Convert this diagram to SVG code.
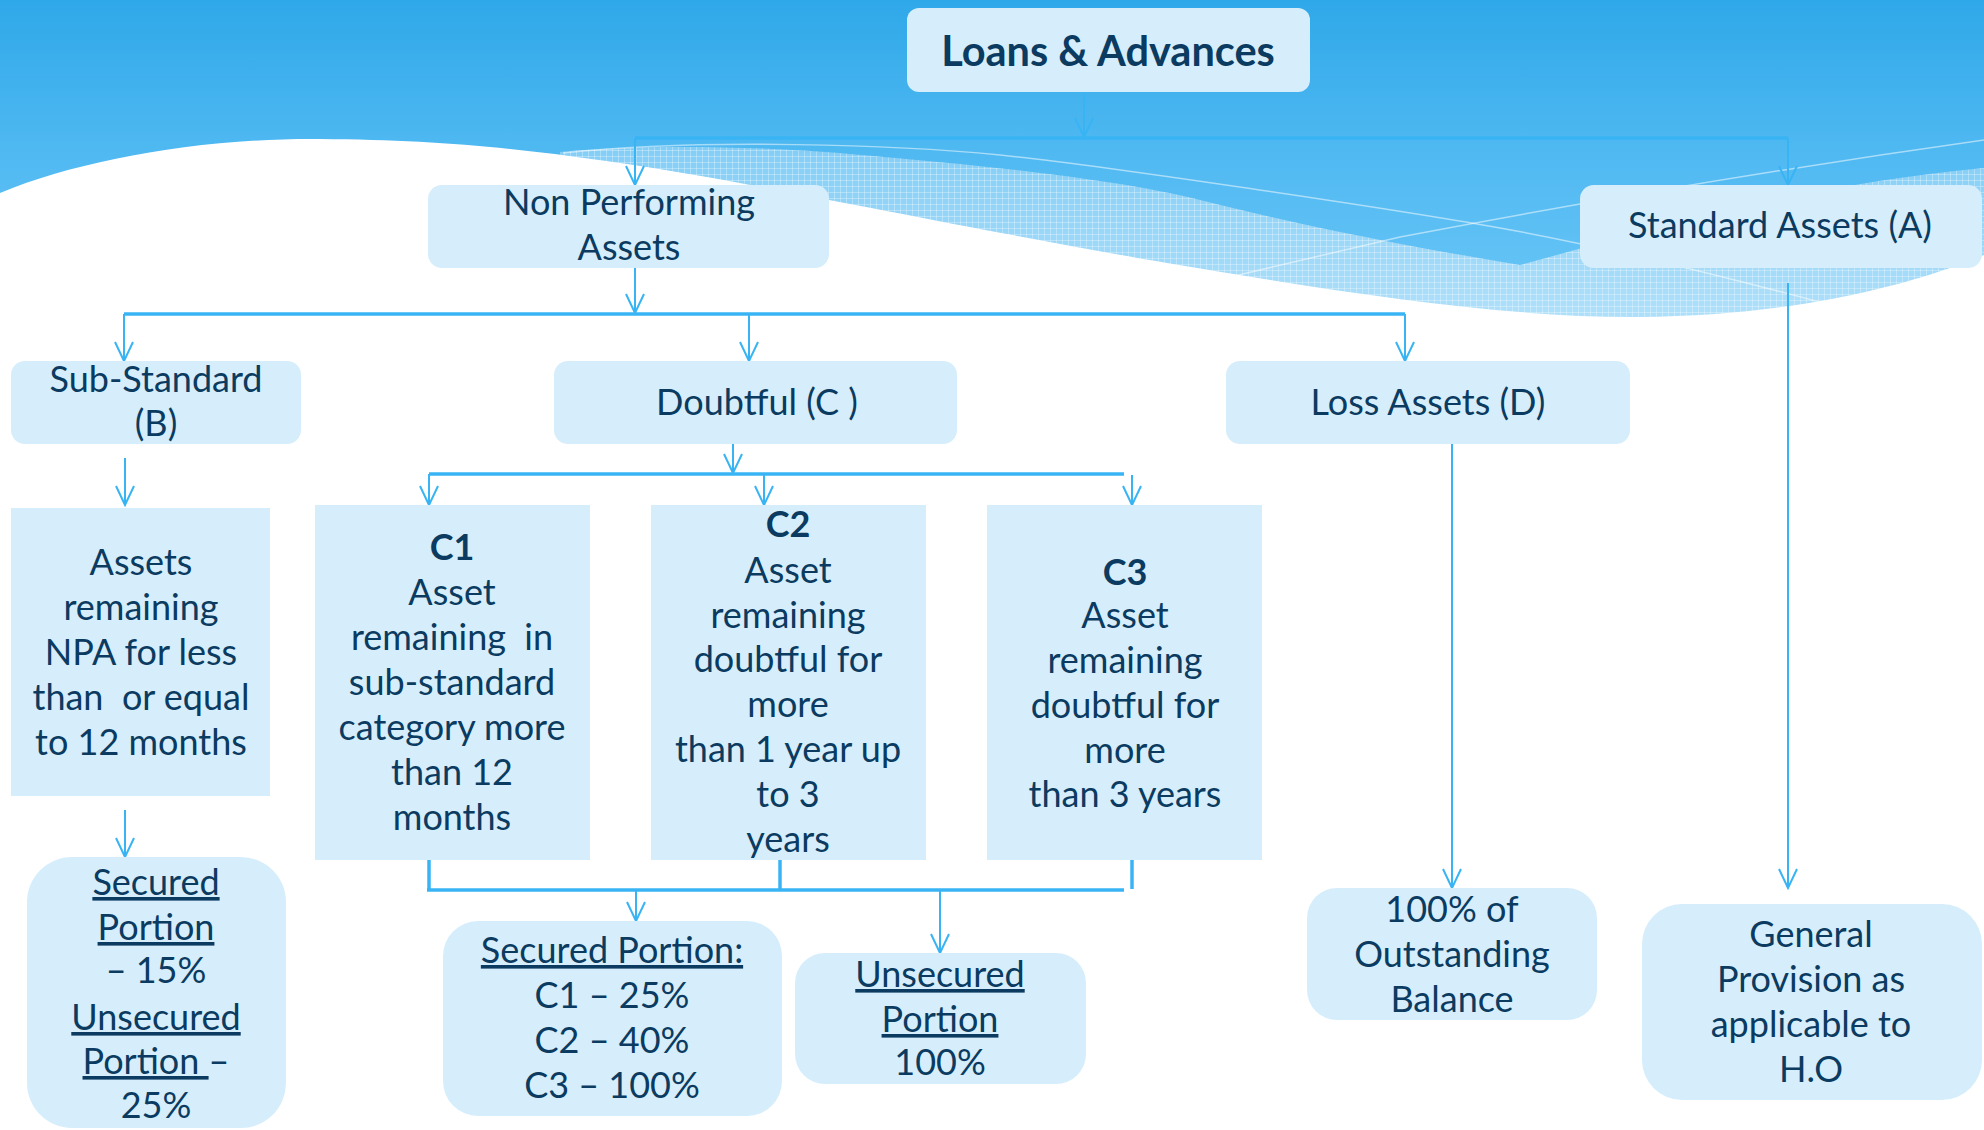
<svg xmlns="http://www.w3.org/2000/svg" width="1984" height="1130" viewBox="0 0 1984 1130">
<style>
.box{fill:#d6eefc}
.t{font-family:Lato,"Open Sans","Liberation Sans",sans-serif;font-size:36px;fill:#0b3b60;text-anchor:middle}
.b{font-weight:bold}
.title{font-size:41.5px}
.u{text-decoration:underline}
.c{stroke:#38b4f4;stroke-width:2;fill:none}
.bus{stroke-width:3.5}
.pre{white-space:pre}
</style>
<defs>
<linearGradient id="sky" x1="0" y1="0" x2="0" y2="330" gradientUnits="userSpaceOnUse">
<stop offset="0" stop-color="#2fa8e9"/>
<stop offset="0.5" stop-color="#52baf2"/>
<stop offset="1" stop-color="#6cc7f7"/>
</linearGradient>
<linearGradient id="band" x1="0" y1="150" x2="0" y2="320" gradientUnits="userSpaceOnUse">
<stop offset="0" stop-color="#84cef6"/>
<stop offset="1" stop-color="#b0e0fa"/>
</linearGradient>
<pattern id="grid" width="6" height="6" patternUnits="userSpaceOnUse">
<path d="M0,0.5H6M0.5,0V6" stroke="#ffffff" stroke-opacity="0.3" stroke-width="1"/>
</pattern>
<marker id="arr" markerUnits="userSpaceOnUse" viewBox="0 0 22 20" markerWidth="22" markerHeight="20" refX="20" refY="10" orient="auto">
<path d="M1,1 L20,10 L1,19" fill="none" stroke="#38b4f4" stroke-width="2"/>
</marker>
</defs>

<g id="background">
<rect x="0" y="0" width="1984" height="1130" fill="#ffffff"/>
<rect x="0" y="0" width="1984" height="340" fill="url(#sky)"/>
<path d="M560,152 C640,144 760,146 850,154 S1100,175 1200,200 S1400,245 1520,265 C1650,230 1800,185 1984,168 L1984,400 L560,400 Z" fill="url(#band)"/>
<path d="M560,152 C640,144 760,146 850,154 S1100,175 1200,200 S1400,245 1520,265 C1650,230 1800,185 1984,168 L1984,400 L560,400 Z" fill="url(#grid)"/>
<path d="M563,153 C700,138 900,145 1000,155 S1400,210 1500,228 S1700,270 1823,303" fill="none" stroke="#ffffff" stroke-opacity="0.5" stroke-width="1.5"/>
<path d="M1230,277 L1400,237 Q1700,180 1984,140" fill="none" stroke="#ffffff" stroke-opacity="0.5" stroke-width="1.5"/>
<path d="M0,193 C80,160 200,138 320,139 S520,148 640,166 S1000,235 1167,263 S1500,318 1640,317 S1900,290 1984,255 L1984,1130 L0,1130 Z" fill="#ffffff"/>
</g>

<g id="connectors">
<line class="c" x1="1084" y1="92" x2="1084" y2="137" marker-end="url(#arr)"/>
<line class="c bus" x1="635" y1="138" x2="1788" y2="138"/>
<line class="c" x1="635" y1="138" x2="635" y2="185" marker-end="url(#arr)"/>
<line class="c" x1="1788" y1="138" x2="1788" y2="185" marker-end="url(#arr)"/>

<line class="c" x1="635" y1="268" x2="635" y2="313" marker-end="url(#arr)"/>
<line class="c bus" x1="124" y1="314" x2="1405" y2="314"/>
<line class="c" x1="124" y1="314" x2="124" y2="361" marker-end="url(#arr)"/>
<line class="c" x1="749" y1="314" x2="749" y2="361" marker-end="url(#arr)"/>
<line class="c" x1="1405" y1="314" x2="1405" y2="361" marker-end="url(#arr)"/>

<line class="c" x1="125" y1="458" x2="125" y2="505" marker-end="url(#arr)"/>

<line class="c" x1="733" y1="444" x2="733" y2="473" marker-end="url(#arr)"/>
<line class="c bus" x1="429" y1="474" x2="1124" y2="474"/>
<line class="c" x1="429" y1="474" x2="429" y2="505" marker-end="url(#arr)"/>
<line class="c" x1="764" y1="474" x2="764" y2="505" marker-end="url(#arr)"/>
<line class="c" x1="1132" y1="475" x2="1132" y2="505" marker-end="url(#arr)"/>

<line class="c" x1="1452" y1="444" x2="1452" y2="888" marker-end="url(#arr)"/>
<line class="c" x1="1788" y1="283" x2="1788" y2="888" marker-end="url(#arr)"/>

<line class="c" x1="125" y1="810" x2="125" y2="857" marker-end="url(#arr)"/>

<line class="c bus" x1="429" y1="858" x2="429" y2="891"/>
<line class="c bus" x1="780" y1="858" x2="780" y2="891"/>
<line class="c bus" x1="1132" y1="858" x2="1132" y2="889"/>
<line class="c bus" x1="427" y1="890" x2="1124" y2="890"/>
<line class="c" x1="636" y1="890" x2="636" y2="921" marker-end="url(#arr)"/>
<line class="c" x1="940" y1="890" x2="940" y2="953" marker-end="url(#arr)"/>
</g>

<g id="loans">
<rect class="box" x="907" y="8" width="403" height="84" rx="12"/>
<text class="t b title" x="1108" y="66">Loans &amp; Advances</text>
</g>

<g id="npa">
<rect class="box" x="428" y="185" width="401" height="83" rx="14"/>
<text class="t" x="629" y="215">Non Performing</text>
<text class="t" x="629" y="260">Assets</text>
</g>

<g id="standard">
<rect class="box" x="1580" y="185" width="402" height="83" rx="14"/>
<text class="t" x="1780" y="238">Standard Assets (A)</text>
</g>

<g id="substandard">
<rect class="box" x="11" y="361" width="290" height="83" rx="14"/>
<text class="t" x="156" y="392">Sub-Standard</text>
<text class="t" x="156" y="436">(B)</text>
</g>

<g id="doubtful">
<rect class="box" x="554" y="361" width="403" height="83" rx="14"/>
<text class="t" x="757" y="415">Doubtful (C )</text>
</g>

<g id="loss">
<rect class="box" x="1226" y="361" width="404" height="83" rx="14"/>
<text class="t" x="1428" y="415">Loss Assets (D)</text>
</g>

<g id="b-desc">
<rect class="box" x="11" y="508" width="259" height="288"/>
<text class="t" x="141" y="575">Assets</text>
<text class="t" x="141" y="620">remaining</text>
<text class="t" x="141" y="665">NPA for less</text>
<text class="t pre" x="141" y="710">than  or equal</text>
<text class="t" x="141" y="755">to 12 months</text>
</g>

<g id="c1">
<rect class="box" x="315" y="505" width="275" height="355"/>
<text class="t b" x="452" y="560">C1</text>
<text class="t" x="452" y="605">Asset</text>
<text class="t pre" x="452" y="650">remaining  in</text>
<text class="t" x="452" y="695">sub-standard</text>
<text class="t" x="452" y="740">category more</text>
<text class="t" x="452" y="785">than 12</text>
<text class="t" x="452" y="830">months</text>
</g>

<g id="c2">
<rect class="box" x="651" y="505" width="275" height="355"/>
<text class="t b" x="788" y="537">C2</text>
<text class="t" x="788" y="583">Asset</text>
<text class="t" x="788" y="628">remaining</text>
<text class="t" x="788" y="672">doubtful for</text>
<text class="t" x="788" y="717">more</text>
<text class="t" x="788" y="762">than 1 year up</text>
<text class="t" x="788" y="807">to 3</text>
<text class="t" x="788" y="852">years</text>
</g>

<g id="c3">
<rect class="box" x="987" y="505" width="275" height="355"/>
<text class="t b" x="1125" y="585">C3</text>
<text class="t" x="1125" y="628">Asset</text>
<text class="t" x="1125" y="673">remaining</text>
<text class="t" x="1125" y="718">doubtful for</text>
<text class="t" x="1125" y="763">more</text>
<text class="t" x="1125" y="807">than 3 years</text>
</g>

<g id="b-provision">
<rect class="box" x="27" y="857" width="259" height="271" rx="45"/>
<text class="t u" x="156" y="895">Secured</text>
<text class="t u" x="156" y="940">Portion</text>
<text class="t" x="156" y="983">– 15%</text>
<text class="t u" x="156" y="1030">Unsecured</text>
<text class="t pre" x="156" y="1074"><tspan class="u">Portion </tspan>–</text>
<text class="t" x="156" y="1118">25%</text>
</g>

<g id="c-secured">
<rect class="box" x="443" y="921" width="339" height="195" rx="35"/>
<text class="t u" x="612" y="963">Secured Portion:</text>
<text class="t" x="612" y="1008">C1 – 25%</text>
<text class="t" x="612" y="1053">C2 – 40%</text>
<text class="t" x="612" y="1098">C3 – 100%</text>
</g>

<g id="c-unsecured">
<rect class="box" x="795" y="953" width="291" height="131" rx="30"/>
<text class="t u" x="940" y="987">Unsecured</text>
<text class="t u" x="940" y="1032">Portion</text>
<text class="t" x="940" y="1075">100%</text>
</g>

<g id="d-provision">
<rect class="box" x="1307" y="888" width="290" height="132" rx="30"/>
<text class="t" x="1452" y="922">100% of</text>
<text class="t" x="1452" y="967">Outstanding</text>
<text class="t" x="1452" y="1012">Balance</text>
</g>

<g id="a-provision">
<rect class="box" x="1642" y="904" width="340" height="196" rx="40"/>
<text class="t" x="1811" y="947">General</text>
<text class="t" x="1811" y="992">Provision as</text>
<text class="t" x="1811" y="1037">applicable to</text>
<text class="t" x="1811" y="1082">H.O</text>
</g>
</svg>
